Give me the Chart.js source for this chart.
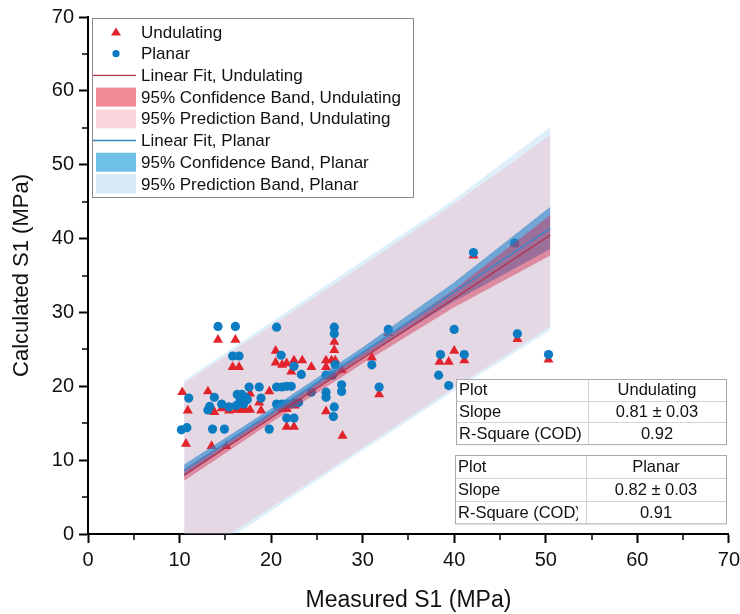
<!DOCTYPE html>
<html>
<head>
<meta charset="utf-8">
<title>Calculated vs measured S1</title>
<script src="https://cdn.jsdelivr.net/npm/chart.js@4.4.1/dist/chart.umd.min.js"></script>
<style>
  html, body { margin: 0; padding: 0; background: #fff; }
  #wrap { position: relative; width: 740px; height: 614px; }
</style>
</head>
<body>
<div id="wrap"><canvas id="chartS1" width="740" height="614"></canvas></div>
<script>
// measured / calculated S1 (MPa) for both joint types
const undX = [10.3, 10.9, 10.7, 13.1, 13.8, 14.6, 15.4, 13.5, 15.1, 14.2, 16.1, 15.8, 16.5, 16.2, 16.7, 17.2, 17.7, 17.7, 18.7, 18.9, 19.8, 20.5, 20.5, 21.2, 21.7, 22.2, 22.5, 23.4, 24.4, 20.8, 21.2, 21.7, 22.6, 21.7, 22.5, 26.0, 26.6, 27.0, 26.0, 26.9, 26.9, 27.7, 26.0, 27.8, 31.0, 31.8, 32.8, 38.4, 39.4, 40.0, 41.1, 42.1, 46.6, 46.9, 50.3];
const undY = [19.2, 16.7, 12.2, 19.3, 16.5, 17.0, 16.7, 11.9, 11.9, 26.3, 26.3, 22.6, 22.6, 16.8, 16.8, 16.8, 16.8, 19.0, 17.8, 16.7, 19.3, 24.8, 23.2, 22.9, 23.1, 22.0, 23.5, 23.5, 22.6, 17.3, 16.9, 16.9, 17.4, 14.5, 14.5, 23.5, 23.5, 23.5, 22.6, 24.9, 26.0, 22.2, 16.6, 13.3, 23.9, 18.9, 27.2, 23.3, 23.3, 24.8, 23.5, 37.7, 39.3, 26.4, 23.6];
const plaX = [10.2, 10.8, 11.0, 13.6, 14.9, 13.8, 13.3, 13.1, 14.6, 15.4, 14.2, 16.1, 15.8, 16.5, 16.3, 16.8, 17.2, 16.6, 17.0, 17.4, 16.2, 17.6, 18.7, 18.9, 19.8, 20.6, 21.1, 22.5, 23.3, 20.6, 21.2, 21.7, 22.2, 20.6, 21.2, 21.8, 22.4, 23.0, 21.7, 22.5, 24.4, 26.0, 26.0, 26.9, 27.7, 27.7, 26.9, 26.9, 27.0, 26.0, 26.7, 26.8, 31.0, 31.8, 32.8, 38.3, 38.5, 39.4, 40.0, 41.1, 42.1, 46.6, 46.9, 50.3];
const plaY = [14.1, 14.4, 18.4, 14.2, 14.2, 18.5, 17.3, 16.8, 17.6, 17.2, 28.1, 28.1, 24.1, 24.1, 18.9, 18.9, 18.5, 18.0, 17.6, 18.2, 17.4, 19.9, 19.9, 18.4, 14.2, 28.0, 24.2, 22.7, 21.6, 19.9, 19.9, 20.0, 20.0, 17.6, 17.6, 17.6, 17.7, 17.8, 15.7, 15.7, 19.2, 19.2, 18.5, 17.2, 20.2, 19.3, 28.0, 27.1, 22.9, 21.5, 21.5, 15.9, 22.9, 19.9, 27.7, 21.5, 24.3, 20.1, 27.7, 24.3, 38.1, 39.4, 27.1, 24.3];

// fit lines and bands, read at these x positions
const bandX = [10.5, 20, 30, 40, 50.5];
const undFit = [8.0, 15.7, 23.8, 31.9, 40.5];
const plaFit = [8.6, 16.4, 24.6, 32.8, 41.4];
const undConfLo = [7.2, 15.1, 23.1, 30.7, 37.7];
const undConfHi = [8.8, 16.3, 24.5, 33.1, 43.2];
const plaConfLo = [7.8, 15.8, 23.9, 31.5, 38.6];
const plaConfHi = [9.4, 17.0, 25.3, 34.1, 44.3];
const undPredLo = [-4.0, 3.6, 11.7, 19.8, 28.1];
const undPredHi = [20.4, 28.2, 36.4, 44.7, 54.0];
const plaPredLo = [-4.6, 3.1, 11.3, 19.4, 27.6];
const plaPredHi = [20.8, 28.7, 37.0, 45.3, 55.1];

const axisTicks = [0, 10, 20, 30, 40, 50, 60, 70];
const minorTicks = [5, 15, 25, 35, 45, 55, 65];

// fit summary tables
const fitNames = ['Undulating', 'Planar'];
const fitSlopes = ['0.81 ± 0.03', '0.82 ± 0.03'];
const fitR2 = ['0.92', '0.91'];

const FONT = 'Arial, "Liberation Sans", Helvetica, sans-serif';
const RED = '#e1232c';
const BLUE = '#0b7cc1';

const pts = (xs, ys) => xs.map((x, i) => ({ x, y: ys[i] }));

function bandLine(ys, extra) {
  return Object.assign({
    type: 'line',
    data: pts(bandX, ys),
    borderWidth: 0,
    pointRadius: 0,
    fill: false,
    tension: 0
  }, extra);
}

// higher order = drawn earlier (further back)
const datasets = [
  { label: 'Undulating', data: pts(undX, undY), pointStyle: 'triangle', pointRadius: 5.8,
    backgroundColor: RED, borderColor: RED, borderWidth: 0, order: 7 },
  { label: 'Planar', data: pts(plaX, plaY), pointStyle: 'circle', pointRadius: 4.6,
    backgroundColor: BLUE, borderColor: BLUE, borderWidth: 0, order: 6 },
  // prediction bands
  bandLine(plaPredLo, { order: 9 }),
  bandLine(plaPredHi, { order: 9, fill: '-1', backgroundColor: 'rgba(100,180,230,0.21)' }),
  bandLine(undPredLo, { order: 8 }),
  bandLine(undPredHi, { order: 8, fill: '-1', backgroundColor: 'rgba(242,161,175,0.30)' }),
  // confidence bands
  bandLine(plaConfLo, { order: 5 }),
  bandLine(plaConfHi, { order: 5, fill: '-1', backgroundColor: 'rgba(40,135,205,0.62)' }),
  bandLine(undConfLo, { order: 4 }),
  bandLine(undConfHi, { order: 4, fill: '-1', backgroundColor: 'rgba(210,45,80,0.45)' }),
  // linear fits
  bandLine(undFit, { order: 1, borderColor: '#b52c44', borderWidth: 1.2 }),
  bandLine(plaFit, { order: 0, borderColor: '#2f8bd0', borderWidth: 1.4 })
];

// legend entries: kind decides the symbol
const legendItems = [
  { kind: 'tri', color: RED, text: 'Undulating' },
  { kind: 'dot', color: BLUE, text: 'Planar' },
  { kind: 'line', color: '#b8344a', text: 'Linear Fit, Undulating' },
  { kind: 'box', color: '#f08a95', text: '95% Confidence Band, Undulating' },
  { kind: 'box', color: '#fad6dd', text: '95% Prediction Band, Undulating' },
  { kind: 'line', color: '#2f86c0', text: 'Linear Fit, Planar' },
  { kind: 'box', color: '#6fc0e6', text: '95% Confidence Band, Planar' },
  { kind: 'box', color: '#d5eaf6', text: '95% Prediction Band, Planar' }
];

const minorTickPlugin = {
  id: 'minorTickPlugin',
  afterDraw(chart) {
    const { ctx, chartArea, scales } = chart;
    ctx.save();
    ctx.strokeStyle = '#000';
    ctx.lineWidth = 1.5;
    minorTicks.forEach(v => {
      const px = Math.round(scales.x.getPixelForValue(v));
      ctx.beginPath();
      ctx.moveTo(px, chartArea.bottom);
      ctx.lineTo(px, chartArea.bottom + 6);
      ctx.stroke();
      const py = Math.round(scales.y.getPixelForValue(v));
      ctx.beginPath();
      ctx.moveTo(chartArea.left, py);
      ctx.lineTo(chartArea.left - 6, py);
      ctx.stroke();
    });
    ctx.restore();
  }
};

const boxLegend = {
  id: 'boxLegend',
  afterDraw(chart) {
    const ctx = chart.ctx;
    const x0 = 92, y0 = 18, w = 321, h = 179, step = 21.7, first = 32;
    ctx.save();
    ctx.fillStyle = '#fff';
    ctx.fillRect(x0, y0, w, h);
    ctx.strokeStyle = '#8a8a8a';
    ctx.lineWidth = 1;
    ctx.strokeRect(x0 + 0.5, y0 + 0.5, w, h);
    ctx.font = '17px ' + FONT;
    ctx.textBaseline = 'middle';
    legendItems.forEach((it, i) => {
      const cy = first + i * step;
      ctx.fillStyle = it.color;
      ctx.strokeStyle = it.color;
      if (it.kind === 'tri') {
        ctx.beginPath();
        ctx.moveTo(116, cy - 4.5);
        ctx.lineTo(121, cy + 3.5);
        ctx.lineTo(111, cy + 3.5);
        ctx.closePath();
        ctx.fill();
      } else if (it.kind === 'dot') {
        ctx.beginPath();
        ctx.arc(116, cy, 3.6, 0, Math.PI * 2);
        ctx.fill();
      } else if (it.kind === 'line') {
        ctx.lineWidth = 1.3;
        ctx.beginPath();
        ctx.moveTo(93, cy);
        ctx.lineTo(136, cy);
        ctx.stroke();
      } else {
        ctx.fillRect(96, cy - 9.5, 40, 19);
      }
      ctx.fillStyle = '#111';
      ctx.fillText(it.text, 141, cy + 1);
    });
    ctx.restore();
  }
};

const fitTables = {
  id: 'fitTables',
  afterDraw(chart) {
    const ctx = chart.ctx;
    const boxes = [
      { left: 456, top: 379, split: 588, rowH: 21.7, clipAt: 588 },
      { left: 455, top: 455, split: 586, rowH: 22.8, clipAt: 578 }
    ];
    const right = 726;
    ctx.save();
    ctx.font = '16.5px ' + FONT;
    ctx.textBaseline = 'middle';
    boxes.forEach((b, k) => {
      const h = b.rowH * 3;
      ctx.fillStyle = '#fff';
      ctx.fillRect(b.left, b.top, right - b.left, h);
      ctx.strokeStyle = '#d4d4d4';
      ctx.lineWidth = 1;
      for (let r = 1; r < 3; r++) {
        ctx.beginPath();
        ctx.moveTo(b.left, Math.round(b.top + r * b.rowH) + 0.5);
        ctx.lineTo(right, Math.round(b.top + r * b.rowH) + 0.5);
        ctx.stroke();
      }
      ctx.beginPath();
      ctx.moveTo(b.split + 0.5, b.top);
      ctx.lineTo(b.split + 0.5, b.top + h);
      ctx.stroke();
      ctx.strokeStyle = '#a9a9a9';
      ctx.strokeRect(b.left + 0.5, b.top + 0.5, right - b.left, h);

      const rows = [['Plot', fitNames[k]], ['Slope', fitSlopes[k]], ['R-Square (COD)', fitR2[k]]];
      rows.forEach((row, r) => {
        const cy = b.top + (r + 0.5) * b.rowH + 1;
        ctx.fillStyle = '#111';
        ctx.save();
        ctx.beginPath();
        ctx.rect(b.left, b.top, b.clipAt - b.left, h);
        ctx.clip();
        ctx.textAlign = 'left';
        ctx.fillText(row[0], b.left + 3, cy);
        ctx.restore();
        ctx.textAlign = 'center';
        ctx.fillText(row[1], (b.split + right) / 2, cy);
      });
    });
    ctx.restore();
  }
};

new Chart(document.getElementById('chartS1'), {
  type: 'scatter',
  data: { datasets },
  options: {
    responsive: false,
    animation: false,
    layout: { padding: { top: 17, right: 10, left: 0, bottom: 0 } },
    plugins: { legend: { display: false }, tooltip: { enabled: false } },
    scales: {
      x: {
        type: 'linear', min: 0, max: 70,
        afterFit: s => { s.height = 80; },
        afterBuildTicks: s => { s.ticks = axisTicks.map(v => ({ value: v })); },
        // tall line height pushes the labels down without widening the side padding
        ticks: { color: '#111', font: { size: 20, family: FONT, lineHeight: 1.75 }, padding: 0 },
        grid: { drawOnChartArea: false, drawTicks: true, tickLength: 9, tickWidth: 2, tickColor: '#000' },
        border: { display: true, color: '#000', width: 2 },
        title: { display: true, text: 'Measured S1 (MPa)', color: '#111',
                 font: { size: 23, family: FONT }, padding: { top: 0, bottom: 0 } }
      },
      y: {
        type: 'linear', min: 0, max: 70,
        afterFit: s => { s.width = 88; },
        afterBuildTicks: s => { s.ticks = axisTicks.map(v => ({ value: v })); },
        ticks: { color: '#111', font: { size: 20, family: FONT }, padding: 5 },
        grid: { drawOnChartArea: false, drawTicks: true, tickLength: 9, tickWidth: 2, tickColor: '#000' },
        border: { display: true, color: '#000', width: 2 },
        title: { display: true, text: 'Calculated S1 (MPa)', color: '#111',
                 font: { size: 22, family: FONT }, padding: { top: 9, bottom: 0 } }
      }
    }
  },
  plugins: [minorTickPlugin, boxLegend, fitTables]
});
</script>
</body>
</html>
